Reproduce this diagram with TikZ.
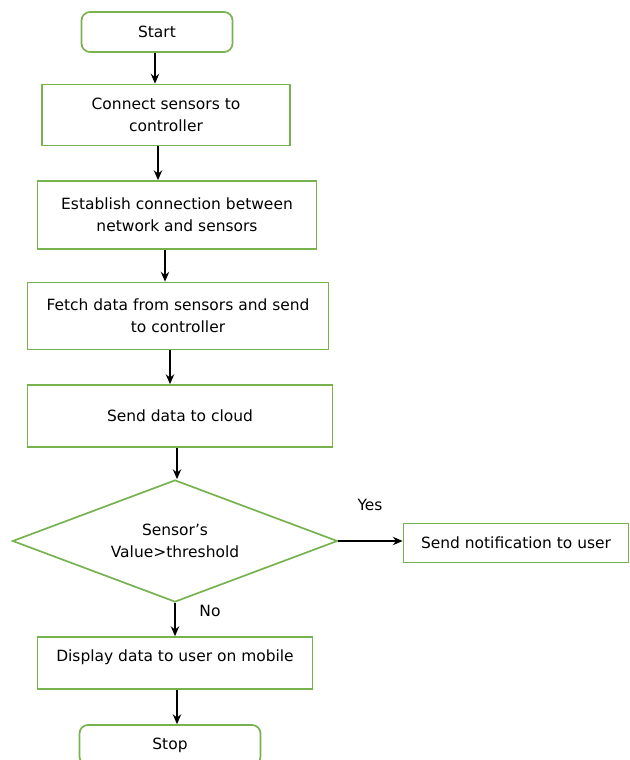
\documentclass[tikz,border=0pt]{standalone}
\usepackage{fontspec}
\setmainfont{DejaVu Sans}
\usepackage{tikz}
\usetikzlibrary{arrows.meta}
\usetikzlibrary{shapes.geometric}
\definecolor{boxgreen}{RGB}{118,178,78}
\tikzset{
  procbox/.style={draw=boxgreen, line width=1.2pt, align=center, font=\fontsize{11}{15.6}\selectfont},
  endbox/.style={procbox, rounded corners=6pt},
  flowarrow/.style={-{Stealth[length=7pt,width=6pt]}, line width=1pt}
}

\begin{document}
\begin{tikzpicture}[x=0.025cm, y=-0.025cm]

\clip (0,0) rectangle (629,760);

% start and the chain of steps
\node [endbox, minimum width=151*0.025cm, minimum height=40*0.025cm] (start) at (157,32) {Start};
\node [procbox, minimum width=248*0.025cm, minimum height=61*0.025cm] (connect) at (166,115) {Connect sensors to\\controller};
\node [procbox, minimum width=279*0.025cm, minimum height=68*0.025cm] (establish) at (177,215) {Establish connection between\\network and sensors};
\node [procbox, minimum width=301*0.025cm, minimum height=67*0.025cm] (fetch) at (178,316) {Fetch data from sensors and send\\to controller};
\node [procbox, minimum width=305*0.025cm, minimum height=62*0.025cm] (cloud) at (180,416) {Send data to cloud};

% decision
\node [procbox, diamond, aspect=2.66, inner sep=0pt, minimum width=325*0.025cm, minimum height=122*0.025cm] (check) at (175,541) {Sensor's\\Value>threshold};
\node [procbox, minimum width=225*0.025cm, minimum height=39*0.025cm] (notify) at (516,543) {Send notification to user};

\node [procbox, minimum width=275*0.025cm, minimum height=52*0.025cm, text depth=0.36cm] (display) at (175,663) {Display data to user on mobile};
\node [endbox, minimum width=181*0.025cm, minimum height=40*0.025cm] (stop) at (170,745) {Stop};

% straight down links, each at its own x
\foreach \a/\b/\x in {start/connect/155,connect/establish/158,establish/fetch/165,fetch/cloud/170,cloud/check/177,check/display/175,display/stop/177} {
  \draw [flowarrow] (\a.south -| \x,0) -- (\b.north -| \x,0);
}
\draw [flowarrow] (check.east) -- (notify.west |- check.east);

\node [font=\fontsize{11}{12}\selectfont] (yes) at (370,505) {Yes};
\node [font=\fontsize{11}{12}\selectfont] (no) at (210,611) {No};

\end{tikzpicture}
\end{document}
